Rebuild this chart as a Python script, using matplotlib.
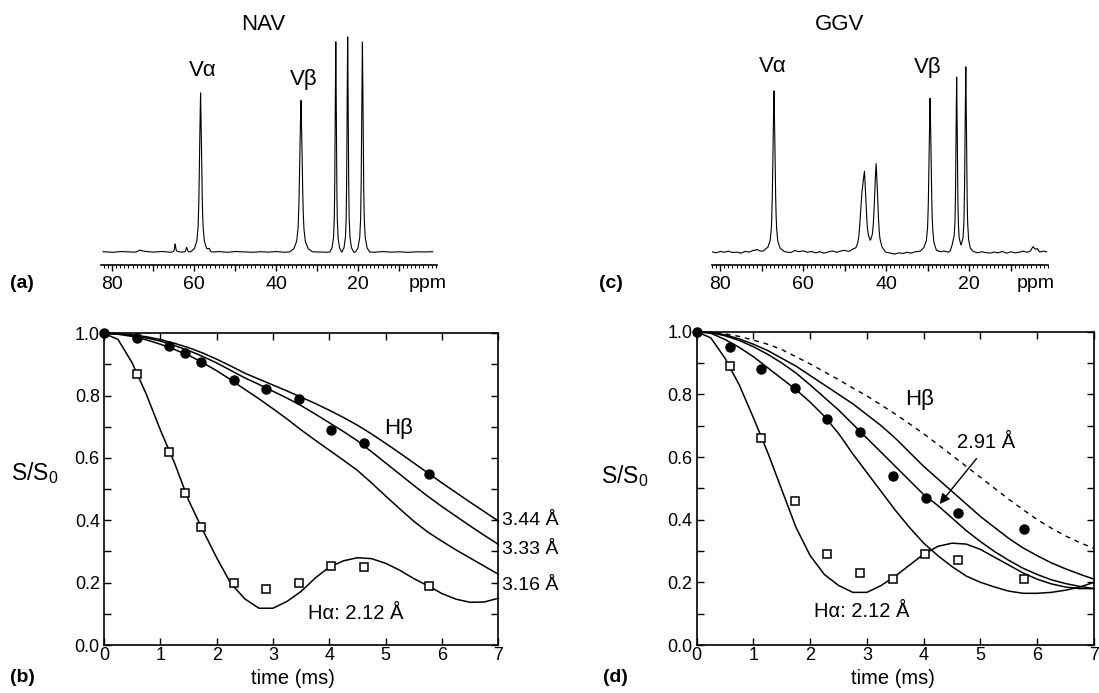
import numpy as np
import matplotlib
matplotlib.use('Agg')
import matplotlib.pyplot as plt
from matplotlib.ticker import FixedLocator, MultipleLocator, FuncFormatter

plt.rcParams['font.family'] = ['Liberation Sans', 'DejaVu Sans']
plt.rcParams['mathtext.fontset'] = 'custom'
plt.rcParams['mathtext.rm'] = 'Liberation Sans'
plt.rcParams['mathtext.default'] = 'regular'

W, H = 1099, 693

# ---------------- spectra (peak tables) ----------------
nav_peak_ppm = [73.2, 64.6, 61.8, 58.4, 56.3, 33.9, 25.4, 22.5, 18.9]
nav_peak_height = [2, 8, 5, 159, 3, 152, 210, 215, 210]
nav_peak_hwhm = [0.6, 0.15, 0.2, 0.3, 0.3, 0.35, 0.18, 0.18, 0.22]
nav_base_ppm = list(range(82, 0, -2))
nav_baseline = [0.3, -0.4, 0.5, 0.0, -0.5, 0.4, -0.2, 0.6, -0.3, 0.2,
                -0.4, 0.3, 0.0, -0.5, 0.4, -0.3, 0.5, 0.1, -0.4, 0.3,
                -0.2, 0.5, -0.3, 0.2, -0.5, 0.3, 0.0, -0.4, 0.4, -0.2,
                0.3, -0.4, 0.2, -0.3, 0.5, -0.2, 0.3, -0.4, 0.2, 0.0, 0.3]

ggv_peak_ppm = [71.0, 67.0, 45.9, 45.2, 42.4, 29.4, 23.9, 23.0, 20.8, 4.6, 3.6]
ggv_peak_height = [3, 162, 38, 68, 87, 154, 5, 173, 184, 5, 3]
ggv_peak_hwhm = [0.5, 0.3, 0.45, 0.45, 0.45, 0.3, 0.4, 0.2, 0.22, 0.4, 0.3]
ggv_base_ppm = list(range(82, 0, -1))
ggv_baseline = [0.3, -0.9, 0.6, -0.3, 0.9, -0.6, 0.0, -1.2, 0.6, -0.3,
                1.2, -0.6, 0.3, 1.8, 0.6, -0.9, -0.3, 0.9, 0.0, -0.6,
                1.5, 0.3, 1.2, -0.3, 0.6, -0.9, 0.3, -1.2, 0.0, 1.2,
                -0.3, 0.9, 1.8, 0.3, 1.2, -0.6, 0.6, 1.8, 0.3, 0.9,
                0.3, -0.6, -1.8, -1.2, -2.1, -0.9, -1.5, -0.3, -1.2, 0.3,
                0.6, 1.5, 0.0, -0.6, -1.2, 0.3, 0.9, -0.6, 0.3, 1.2,
                0.6, 1.5, -0.3, 0.6, -0.9, 0.3, -0.6, -1.2, 0.0, -0.9,
                0.6, -1.2, 0.3, -0.9, -0.3, 0.9, -0.6, 0.0, 0.3, -0.6,
                0.9, -0.3]

# peak line-shape profile (offset in half-widths -> fraction of height)
profile_offset = [0, 0.5, 1, 1.5, 2, 3, 5, 8]
profile_frac = [1, 0.8, 0.5, 0.28, 0.16, 0.07, 0.02, 0]

# ---------------- decay data ----------------
nav_t_pts = [0, 0.58, 1.15, 1.44, 1.72, 2.30, 2.88, 3.46, 4.03, 4.61, 5.77]
nav_hb_pts = [1.0, 0.985, 0.96, 0.937, 0.908, 0.849, 0.82, 0.79, 0.69, 0.648, 0.55]
nav_ha_t = [0.58, 1.15, 1.44, 1.72, 2.30, 2.88, 3.46, 4.03, 4.61, 5.77]
nav_ha_pts = [0.868, 0.62, 0.488, 0.379, 0.20, 0.18, 0.20, 0.254, 0.251, 0.19]

curve_t = [0, 0.25, 0.5, 0.75, 1.0, 1.25, 1.5, 1.75, 2.0, 2.25, 2.5, 2.75, 3.0, 3.25,
           3.5, 3.75, 4.0, 4.25, 4.5, 4.75, 5.0, 5.25, 5.5, 5.75, 6.0, 6.25, 6.5, 6.75, 7.0]

nav_344 = [1.0, 0.999, 0.995, 0.989, 0.98, 0.968, 0.954, 0.937, 0.917, 0.895, 0.872, 0.853,
           0.834, 0.815, 0.795, 0.775, 0.753, 0.73, 0.705, 0.677, 0.647, 0.616, 0.584, 0.552,
           0.52, 0.489, 0.458, 0.428, 0.398]
nav_333 = [1.0, 0.998, 0.993, 0.985, 0.975, 0.961, 0.945, 0.926, 0.905, 0.881, 0.857, 0.836,
           0.814, 0.792, 0.768, 0.741, 0.713, 0.685, 0.655, 0.62, 0.584, 0.548, 0.512, 0.477,
           0.444, 0.413, 0.382, 0.352, 0.323]
nav_316 = [1.0, 0.997, 0.99, 0.979, 0.965, 0.948, 0.93, 0.906, 0.88, 0.851, 0.82, 0.79,
           0.758, 0.725, 0.69, 0.657, 0.625, 0.593, 0.56, 0.52, 0.478, 0.437, 0.397, 0.362,
           0.333, 0.305, 0.279, 0.253, 0.227]
nav_212 = [1.0, 0.98, 0.905, 0.805, 0.69, 0.585, 0.465, 0.37, 0.28, 0.198, 0.148, 0.118,
           0.118, 0.14, 0.172, 0.215, 0.25, 0.27, 0.28, 0.277, 0.262, 0.24, 0.213, 0.19,
           0.165, 0.147, 0.137, 0.138, 0.15]

ggv_t_pts = [0, 0.59, 1.14, 1.73, 2.30, 2.875, 3.45, 4.04, 4.60, 5.76]
ggv_hb_pts = [1.0, 0.95, 0.88, 0.82, 0.72, 0.68, 0.54, 0.47, 0.42, 0.37]
ggv_ha_t = [0.58, 1.14, 1.73, 2.30, 2.875, 3.45, 4.03, 4.60, 5.76]
ggv_ha_pts = [0.89, 0.66, 0.46, 0.29, 0.23, 0.21, 0.29, 0.27, 0.21]

ggv_dashed = [1.0, 0.998, 0.993, 0.985, 0.973, 0.96, 0.943, 0.92, 0.897, 0.872, 0.847, 0.82,
              0.795, 0.766, 0.737, 0.706, 0.674, 0.64, 0.605, 0.57, 0.535, 0.5, 0.465, 0.432,
              0.40, 0.373, 0.348, 0.327, 0.308]
ggv_hb_a = [1.0, 0.998, 0.99, 0.977, 0.96, 0.94, 0.915, 0.89, 0.86, 0.83, 0.80, 0.77,
            0.735, 0.70, 0.66, 0.615, 0.57, 0.53, 0.49, 0.45, 0.41, 0.375, 0.34, 0.31,
            0.285, 0.262, 0.243, 0.226, 0.21]
ggv_291 = [1.0, 0.997, 0.987, 0.972, 0.952, 0.928, 0.9, 0.868, 0.83, 0.79, 0.75, 0.705,
           0.66, 0.615, 0.57, 0.525, 0.48, 0.445, 0.405, 0.365, 0.33, 0.298, 0.27, 0.245,
           0.225, 0.208, 0.196, 0.187, 0.18]
ggv_hb_c = [1.0, 0.995, 0.975, 0.95, 0.92, 0.885, 0.85, 0.815, 0.775, 0.73, 0.675, 0.61,
            0.55, 0.49, 0.43, 0.375, 0.325, 0.285, 0.25, 0.22, 0.2, 0.185, 0.172, 0.165,
            0.165, 0.168, 0.175, 0.185, 0.2]
ggv_212 = [1.0, 0.98, 0.915, 0.83, 0.725, 0.615, 0.495, 0.375, 0.285, 0.225, 0.19, 0.168,
           0.168, 0.19, 0.22, 0.255, 0.29, 0.315, 0.325, 0.322, 0.305, 0.28, 0.255, 0.23,
           0.21, 0.195, 0.185, 0.18, 0.18]

fig = plt.figure(figsize=(W / 100, H / 100), dpi=100)


def px(x, y):
    return x / W, 1 - y / H


def trace(ppm_lo, ppm_hi, peaks, heights, hwhm, base_ppm, base_val):
    x = np.arange(ppm_hi, ppm_lo, -0.02)
    y = np.interp(x, base_ppm[::-1], base_val[::-1])
    for p, h, w in zip(peaks, heights, hwhm):
        y = y + h * np.interp(np.abs(x - p) / w, profile_offset, profile_frac, right=0)
    return x, y


def spectrum_axes(left, right, xlim):
    ax = fig.add_axes([left / W, (H - 265) / H, (right - left) / W, 265 / H])
    ax.set_xlim(*xlim)
    ax.set_ylim(-13, 252)
    for s in ['left', 'right', 'top']:
        ax.spines[s].set_visible(False)
    ax.spines['bottom'].set_linewidth(1.2)
    ax.set_yticks([])
    ax.xaxis.set_major_locator(FixedLocator([80, 70, 60, 50, 40, 30, 20, 10]))
    ax.xaxis.set_major_formatter(FuncFormatter(
        lambda v, p: f'{int(round(v))}' if int(round(v)) in (80, 60, 40, 20) else ''))
    ax.xaxis.set_minor_locator(MultipleLocator(1))
    ax.tick_params(axis='x', which='major', direction='out', length=4, width=1.0,
                   labelsize=14, pad=4)
    ax.tick_params(axis='x', which='minor', direction='out', length=2, width=0.7)
    ax.patch.set_alpha(0)
    return ax


# (a) NAV spectrum
axa = spectrum_axes(101, 437, (82.7, 0.7))
x, y = trace(1.7, 82.2, nav_peak_ppm, nav_peak_height, nav_peak_hwhm, nav_base_ppm, nav_baseline)
axa.plot(x, y, color='k', lw=0.8)

# (c) GGV spectrum
axc = spectrum_axes(711.7, 1048, (82.0, 1.0))
x, y = trace(1.3, 82.0, ggv_peak_ppm, ggv_peak_height, ggv_peak_hwhm, ggv_base_ppm, ggv_baseline)
axc.plot(x, y, color='k', lw=0.8)

fig.text(*px(263, 25), 'NAV', ha='center', va='center', fontsize=16)
fig.text(*px(840, 25), 'GGV', ha='center', va='center', fontsize=16)
fig.text(*px(202.5, 70), 'V\u03b1', ha='center', va='center', fontsize=16)
fig.text(*px(304, 80), 'V\u03b2', ha='center', va='center', fontsize=16)
fig.text(*px(773, 67), 'V\u03b1', ha='center', va='center', fontsize=16)
fig.text(*px(927.5, 67), 'V\u03b2', ha='center', va='center', fontsize=16)
fig.text(*px(427.5, 283), 'ppm', ha='center', va='center', fontsize=14)
fig.text(*px(1036, 283), 'ppm', ha='center', va='center', fontsize=14)
fig.text(*px(22, 284), '(a)', ha='center', va='center', fontsize=14, fontweight='bold')
fig.text(*px(611, 284), '(c)', ha='center', va='center', fontsize=14, fontweight='bold')
fig.text(*px(22, 678), '(b)', ha='center', va='center', fontsize=14, fontweight='bold')
fig.text(*px(615, 678), '(d)', ha='center', va='center', fontsize=14, fontweight='bold')


def decay_axes(left, right, top):
    ax = fig.add_axes([left / W, (H - 645) / H, (right - left) / W, (645 - top) / H])
    ax.set_xlim(0, 7)
    ax.set_ylim(0, 1.0)
    ax.xaxis.set_major_locator(MultipleLocator(1))
    ax.yaxis.set_major_locator(MultipleLocator(0.2))
    ax.yaxis.set_minor_locator(MultipleLocator(0.1))
    ax.yaxis.set_major_formatter(FuncFormatter(lambda v, p: f'{v:.1f}'))
    ax.tick_params(which='both', direction='in', top=True, right=True, length=5, width=1.0,
                   labelsize=13)
    ax.tick_params(axis='x', pad=1.5)
    ax.tick_params(axis='y', pad=3)
    for s in ax.spines.values():
        s.set_linewidth(1.2)
    return ax


# (b) NAV decay
axb = decay_axes(104, 498.3, 333.3)
for c in (nav_344, nav_333, nav_316, nav_212):
    axb.plot(curve_t, c, color='k', lw=1.1, clip_on=False)
axb.plot(nav_ha_t, nav_ha_pts, 's', ms=6, mfc='white', mec='k', mew=1.1, zorder=5, clip_on=False)
axb.plot(nav_t_pts, nav_hb_pts, 'o', ms=6.5, color='k', zorder=6, clip_on=False)
axb.text(5.23, 0.695, 'H\u03b2', ha='center', va='center', fontsize=16)
axb.text(7.06, 0.40, '3.44 \u00c5', ha='left', va='center', fontsize=14)
axb.text(7.06, 0.305, '3.33 \u00c5', ha='left', va='center', fontsize=14)
axb.text(7.06, 0.19, '3.16 \u00c5', ha='left', va='center', fontsize=14)
axb.text(4.46, 0.10, 'H\u03b1: 2.12 \u00c5', ha='center', va='center', fontsize=14.5)
fig.text(*px(293, 678), 'time (ms)', ha='center', va='center', fontsize=14.5)
fig.text(*px(35, 473), 'S/S$_0$', ha='center', va='center', fontsize=16.5)

# (d) GGV decay
axd = decay_axes(696.7, 1094, 331.7)
axd.plot(curve_t, ggv_dashed, color='k', lw=1.0, ls=(0, (3.5, 3.5)))
for c in (ggv_hb_a, ggv_291, ggv_hb_c, ggv_212):
    axd.plot(curve_t, c, color='k', lw=1.1, clip_on=False)
axd.plot(ggv_ha_t, ggv_ha_pts, 's', ms=6, mfc='white', mec='k', mew=1.1, zorder=5)
axd.plot(ggv_t_pts, ggv_hb_pts, 'o', ms=6.5, color='k', zorder=6, clip_on=False)
axd.text(3.93, 0.782, 'H\u03b2', ha='center', va='center', fontsize=16)
axd.text(5.09, 0.646, '2.91 \u00c5', ha='center', va='center', fontsize=14.5)
axd.annotate('', xy=(4.28, 0.45), xytext=(4.93, 0.595),
             arrowprops=dict(arrowstyle='-|>', color='k', lw=1.0, mutation_scale=15,
                             shrinkA=0, shrinkB=0))
axd.text(2.91, 0.107, 'H\u03b1: 2.12 \u00c5', ha='center', va='center', fontsize=14.5)
fig.text(*px(892.5, 679), 'time (ms)', ha='center', va='center', fontsize=14.5)
fig.text(*px(625, 476), 'S/S$_0$', ha='center', va='center', fontsize=16.5)

fig.savefig('out.png', dpi=100)
